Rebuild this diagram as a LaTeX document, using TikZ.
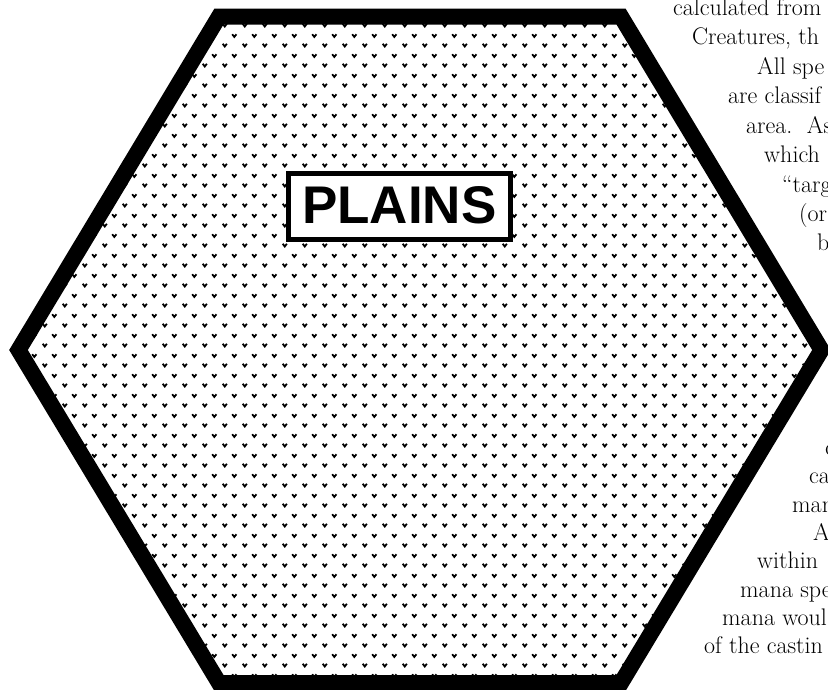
\documentclass[tikz,border=0pt]{standalone}
\usepackage{fontspec}
\newfontfamily\plainsfont{Liberation Sans}
\usetikzlibrary{patterns}
\pgfdeclarepatternformonly{vmarks}{\pgfqpoint{0pt}{0pt}}{\pgfqpoint{20pt}{20pt}}{\pgfqpoint{20pt}{20pt}}{%
  \pgfsetlinewidth{1.9pt}%
  \pgfpathmoveto{\pgfqpoint{2.8pt}{6.5pt}}\pgfpathlineto{\pgfqpoint{5pt}{3.7pt}}\pgfpathlineto{\pgfqpoint{7.2pt}{6.5pt}}%
  \pgfpathmoveto{\pgfqpoint{12.8pt}{16.5pt}}\pgfpathlineto{\pgfqpoint{15pt}{13.7pt}}\pgfpathlineto{\pgfqpoint{17.2pt}{16.5pt}}%
  \pgfusepath{stroke}}
\tikzset{
  bodytext/.style={anchor=base west, inner sep=0pt, font=\fontsize{24}{29}\selectfont},
  hexborder/.style={line width=16pt, line join=miter},
  labelbox/.style={draw, fill=white, line width=5pt, anchor=base west, inner xsep=14pt, inner ysep=0pt,
    text height=49.5pt, text depth=16.5pt, font=\plainsfont\bfseries\fontsize{53}{53}\selectfont}
}
\begin{document}
\begin{tikzpicture}[x=1pt,y=-1pt]
\useasboundingbox (0,0) rectangle (828,689);
\begin{scope}
\clip (0,0) rectangle (828,689);
% text beside the hexagon
\node[bodytext] (t1) at (673,15) {calculated from};
\node[bodytext] (t2) at (692,44.5) {Creatures, th};
\node[bodytext] (t3) at (757,74) {All spe};
\node[bodytext] (t4) at (728,103.5) {are classif};
\node[bodytext] (t5) at (746,133) {area.\ \ As};
\node[bodytext] (t6) at (764,162.5) {which};
\node[bodytext] (t7) at (782,192) {``targ};
\node[bodytext] (t8) at (799,221) {(or};
\node[bodytext] (t9) at (817,250) {b};
\node[bodytext] (u1) at (825,455) {c};
\node[bodytext] (u2) at (809,483) {ca};
\node[bodytext] (u3) at (792,512) {man};
\node[bodytext] (u4) at (813,540) {A};
\node[bodytext] (u5) at (757,568) {within};
\node[bodytext] (u6) at (740,597) {mana spe};
\node[bodytext] (u7) at (722,625) {mana woul};
\node[bodytext] (u8) at (704,653) {of the castin};
% hexagon
\fill[white] (18.5,350) -- (219,16.5) -- (621,16.5) -- (821.5,350) -- (621,683) -- (219,683) -- cycle;
\fill[pattern=vmarks] (18.5,350) -- (219,16.5) -- (621,16.5) -- (821.5,350) -- (621,683) -- (219,683) -- cycle;
\draw[hexborder] (18.5,350) -- (219,16.5) -- (621,16.5) -- (821.5,350) -- (621,683) -- (219,683) -- cycle;
% label
\node[labelbox] (plains) at (285.5,223) {PLAINS};
\end{scope}
\end{tikzpicture}
\end{document}
